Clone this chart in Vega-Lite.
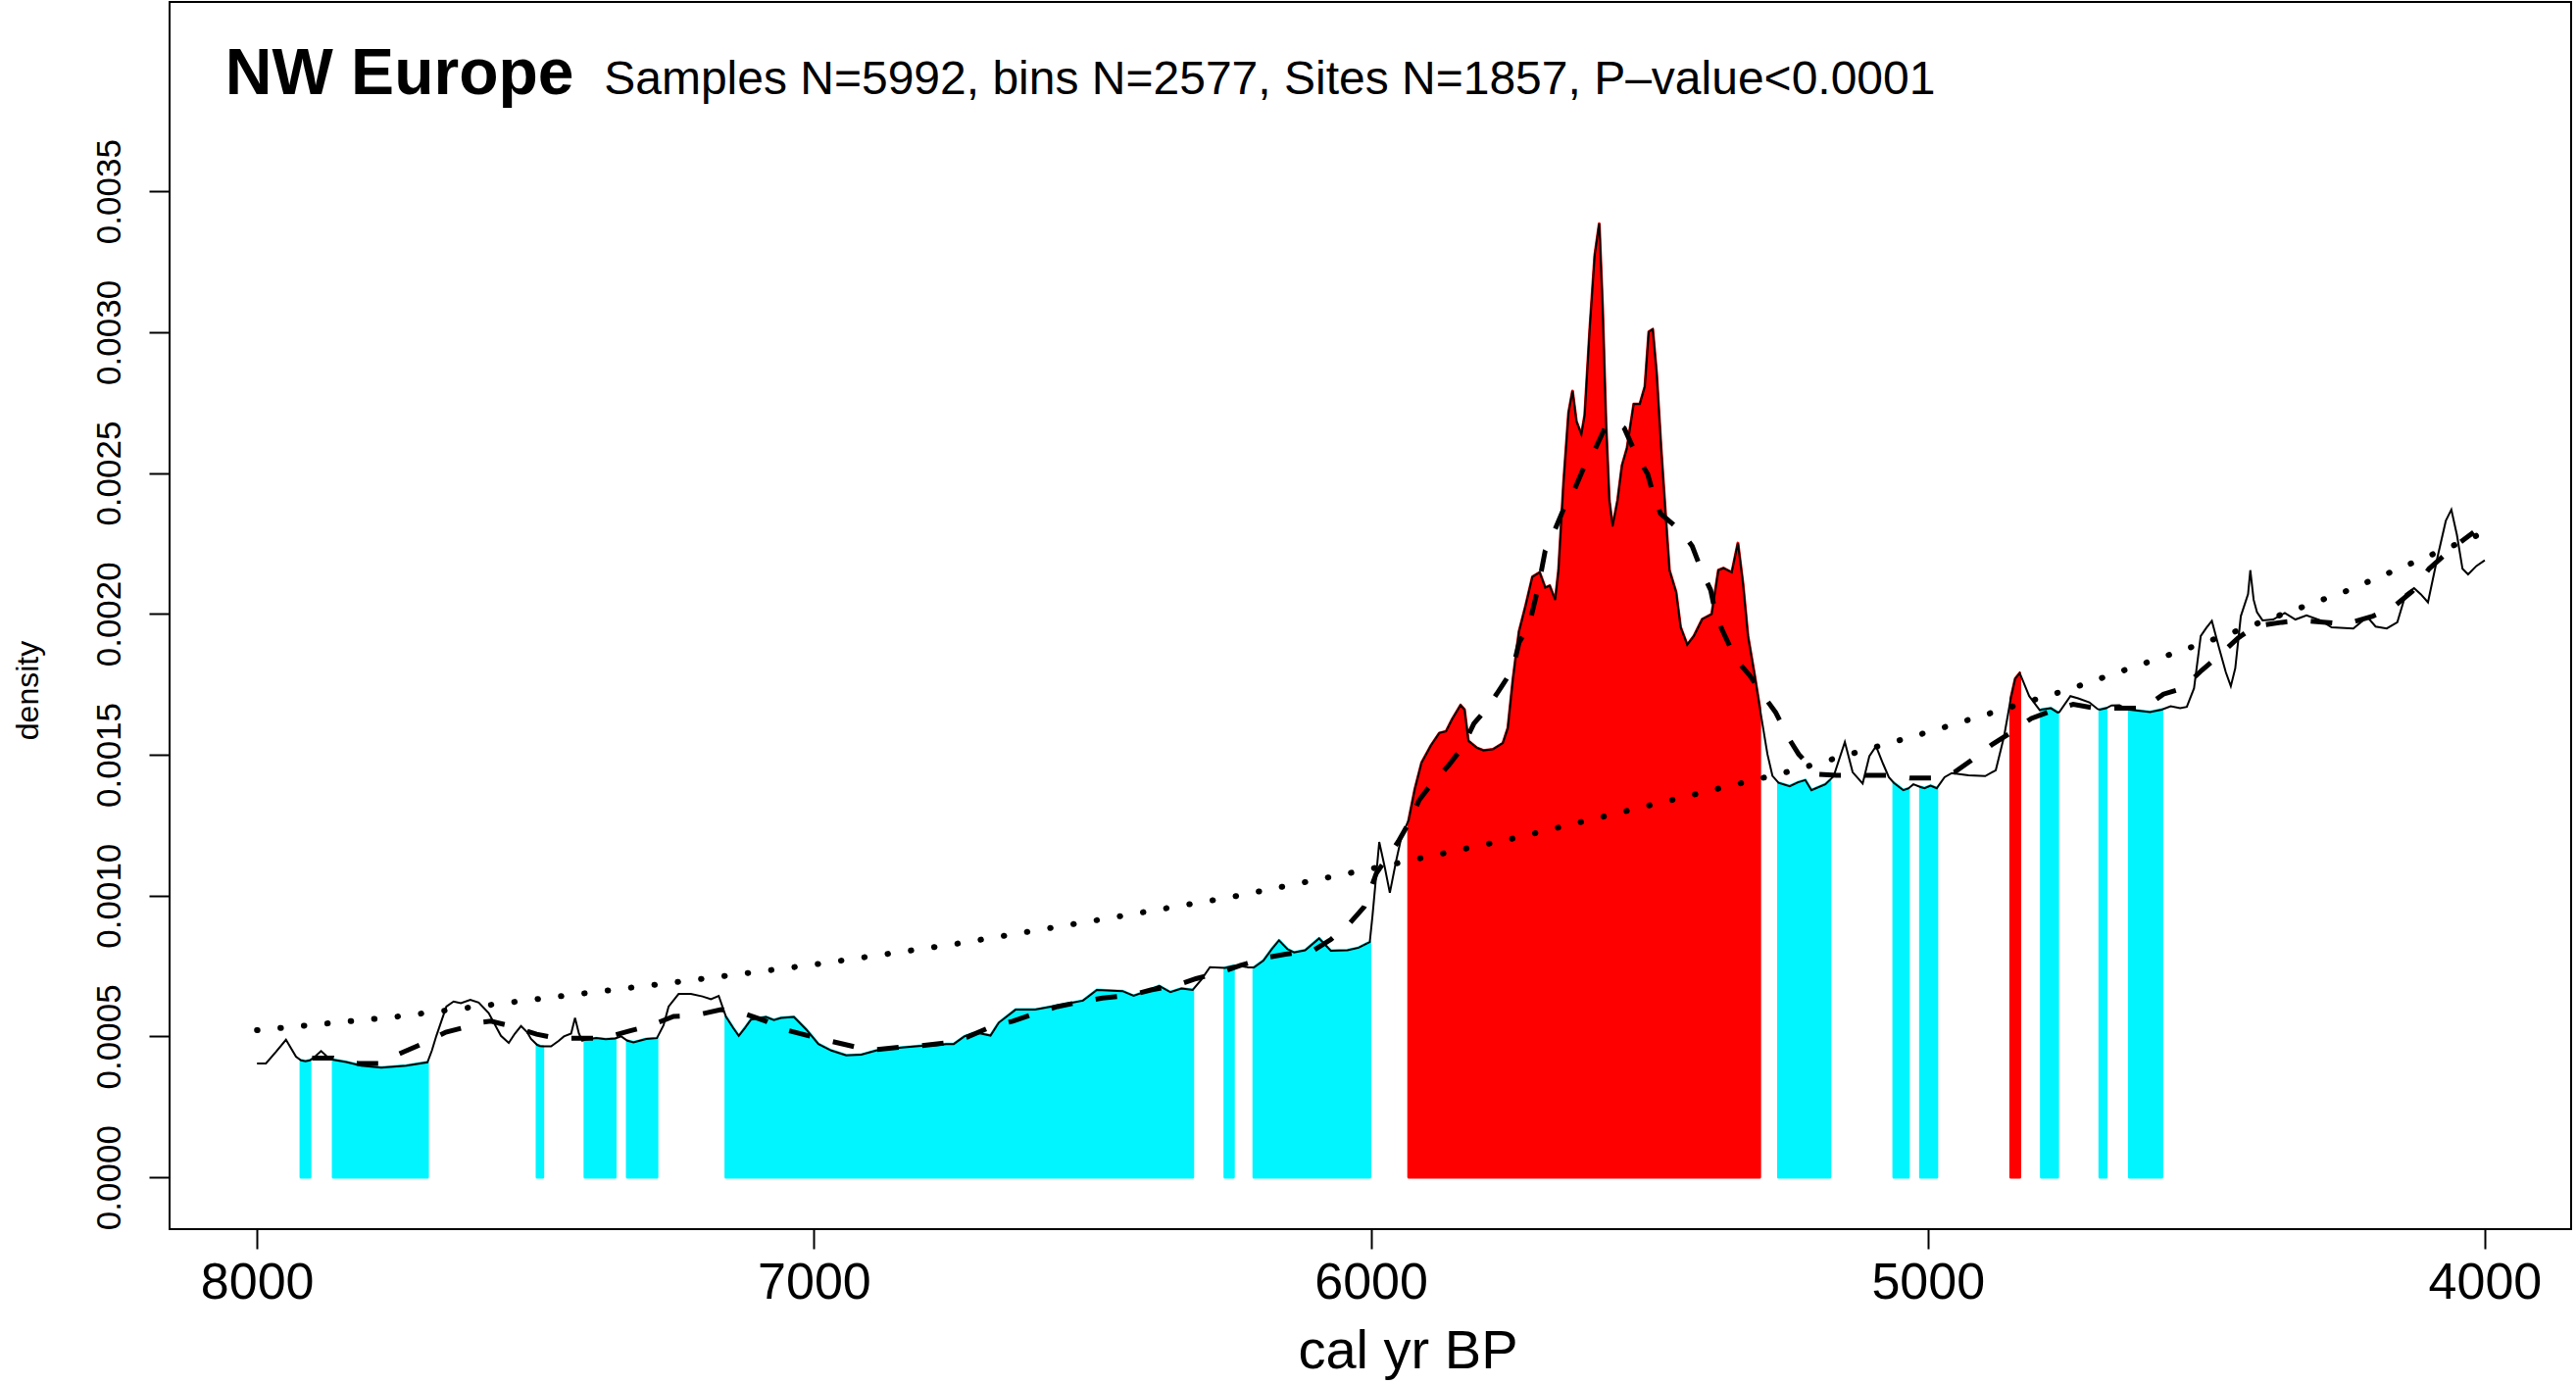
{
  "$schema": "https://vega.github.io/schema/vega-lite/v6.json",
  "autosize": {"type": "none"},
  "width": 2450,
  "height": 1252,
  "padding": {"left": 173, "top": 2, "right": 5, "bottom": 156},
  "background": "white",
  "config": {
    "font": "Liberation Sans",
    "view": {"stroke": "#000000", "strokeWidth": 2},
    "axis": {"grid": false, "domain": false, "tickColor": "#000000", "tickWidth": 2, "labelColor": "#000000", "titleColor": "#000000", "labelFont": "Liberation Sans", "titleFont": "Liberation Sans", "titleFontWeight": "normal"}
  },
  "datasets": {
    "spd": [
      {"year": 8000, "d": 0.000404, "seg": "", "sig": "none"},
      {"year": 7984, "d": 0.000404, "seg": "", "sig": "none"},
      {"year": 7966, "d": 0.000445, "seg": "", "sig": "none"},
      {"year": 7948, "d": 0.000488, "seg": "", "sig": "none"},
      {"year": 7930, "d": 0.000428, "seg": "", "sig": "none"},
      {"year": 7921, "d": 0.000415, "seg": "c1", "sig": "neg"},
      {"year": 7913, "d": 0.000412, "seg": "c1", "sig": "neg"},
      {"year": 7905, "d": 0.000415, "seg": "c1", "sig": "neg"},
      {"year": 7895, "d": 0.000430, "seg": "", "sig": "none"},
      {"year": 7885, "d": 0.000448, "seg": "", "sig": "none"},
      {"year": 7875, "d": 0.000430, "seg": "", "sig": "none"},
      {"year": 7863, "d": 0.000417, "seg": "c2", "sig": "neg"},
      {"year": 7840, "d": 0.000409, "seg": "c2", "sig": "neg"},
      {"year": 7813, "d": 0.000396, "seg": "c2", "sig": "neg"},
      {"year": 7777, "d": 0.000389, "seg": "c2", "sig": "neg"},
      {"year": 7732, "d": 0.000396, "seg": "c2", "sig": "neg"},
      {"year": 7694, "d": 0.000408, "seg": "c2", "sig": "neg"},
      {"year": 7686, "d": 0.000450, "seg": "", "sig": "none"},
      {"year": 7678, "d": 0.000502, "seg": "", "sig": "none"},
      {"year": 7660, "d": 0.000606, "seg": "", "sig": "none"},
      {"year": 7647, "d": 0.000624, "seg": "", "sig": "none"},
      {"year": 7634, "d": 0.000618, "seg": "", "sig": "none"},
      {"year": 7617, "d": 0.000630, "seg": "", "sig": "none"},
      {"year": 7602, "d": 0.000620, "seg": "", "sig": "none"},
      {"year": 7584, "d": 0.000583, "seg": "", "sig": "none"},
      {"year": 7562, "d": 0.000502, "seg": "", "sig": "none"},
      {"year": 7548, "d": 0.000477, "seg": "", "sig": "none"},
      {"year": 7537, "d": 0.000510, "seg": "", "sig": "none"},
      {"year": 7526, "d": 0.000537, "seg": "", "sig": "none"},
      {"year": 7515, "d": 0.000515, "seg": "", "sig": "none"},
      {"year": 7508, "d": 0.000491, "seg": "", "sig": "none"},
      {"year": 7497, "d": 0.000470, "seg": "c3", "sig": "neg"},
      {"year": 7492, "d": 0.000466, "seg": "c3", "sig": "neg"},
      {"year": 7487, "d": 0.000465, "seg": "c3", "sig": "neg"},
      {"year": 7472, "d": 0.000465, "seg": "", "sig": "none"},
      {"year": 7458, "d": 0.000485, "seg": "", "sig": "none"},
      {"year": 7449, "d": 0.000500, "seg": "", "sig": "none"},
      {"year": 7436, "d": 0.000510, "seg": "", "sig": "none"},
      {"year": 7429, "d": 0.000566, "seg": "", "sig": "none"},
      {"year": 7422, "d": 0.000510, "seg": "", "sig": "none"},
      {"year": 7416, "d": 0.000485, "seg": "", "sig": "none"},
      {"year": 7411, "d": 0.000488, "seg": "c4", "sig": "neg"},
      {"year": 7391, "d": 0.000494, "seg": "c4", "sig": "neg"},
      {"year": 7374, "d": 0.000490, "seg": "c4", "sig": "neg"},
      {"year": 7357, "d": 0.000493, "seg": "c4", "sig": "neg"},
      {"year": 7346, "d": 0.000500, "seg": "", "sig": "none"},
      {"year": 7335, "d": 0.000485, "seg": "c5", "sig": "neg"},
      {"year": 7324, "d": 0.000479, "seg": "c5", "sig": "neg"},
      {"year": 7301, "d": 0.000491, "seg": "c5", "sig": "neg"},
      {"year": 7282, "d": 0.000494, "seg": "c5", "sig": "neg"},
      {"year": 7270, "d": 0.000540, "seg": "", "sig": "none"},
      {"year": 7261, "d": 0.000606, "seg": "", "sig": "none"},
      {"year": 7243, "d": 0.000651, "seg": "", "sig": "none"},
      {"year": 7221, "d": 0.000651, "seg": "", "sig": "none"},
      {"year": 7200, "d": 0.000642, "seg": "", "sig": "none"},
      {"year": 7185, "d": 0.000632, "seg": "", "sig": "none"},
      {"year": 7171, "d": 0.000644, "seg": "", "sig": "none"},
      {"year": 7158, "d": 0.000570, "seg": "c6", "sig": "neg"},
      {"year": 7145, "d": 0.000530, "seg": "c6", "sig": "neg"},
      {"year": 7135, "d": 0.000502, "seg": "c6", "sig": "neg"},
      {"year": 7124, "d": 0.000530, "seg": "c6", "sig": "neg"},
      {"year": 7113, "d": 0.000560, "seg": "c6", "sig": "neg"},
      {"year": 7086, "d": 0.000569, "seg": "c6", "sig": "neg"},
      {"year": 7072, "d": 0.000558, "seg": "c6", "sig": "neg"},
      {"year": 7059, "d": 0.000566, "seg": "c6", "sig": "neg"},
      {"year": 7036, "d": 0.000569, "seg": "c6", "sig": "neg"},
      {"year": 7014, "d": 0.000525, "seg": "c6", "sig": "neg"},
      {"year": 6992, "d": 0.000473, "seg": "c6", "sig": "neg"},
      {"year": 6969, "d": 0.000450, "seg": "c6", "sig": "neg"},
      {"year": 6942, "d": 0.000433, "seg": "c6", "sig": "neg"},
      {"year": 6915, "d": 0.000435, "seg": "c6", "sig": "neg"},
      {"year": 6888, "d": 0.000450, "seg": "c6", "sig": "neg"},
      {"year": 6852, "d": 0.000459, "seg": "c6", "sig": "neg"},
      {"year": 6807, "d": 0.000467, "seg": "c6", "sig": "neg"},
      {"year": 6789, "d": 0.000467, "seg": "c6", "sig": "neg"},
      {"year": 6763, "d": 0.000473, "seg": "c6", "sig": "neg"},
      {"year": 6749, "d": 0.000473, "seg": "c6", "sig": "neg"},
      {"year": 6730, "d": 0.000500, "seg": "c6", "sig": "neg"},
      {"year": 6714, "d": 0.000511, "seg": "c6", "sig": "neg"},
      {"year": 6704, "d": 0.000512, "seg": "c6", "sig": "neg"},
      {"year": 6683, "d": 0.000503, "seg": "c6", "sig": "neg"},
      {"year": 6668, "d": 0.000549, "seg": "c6", "sig": "neg"},
      {"year": 6638, "d": 0.000595, "seg": "c6", "sig": "neg"},
      {"year": 6603, "d": 0.000595, "seg": "c6", "sig": "neg"},
      {"year": 6557, "d": 0.000612, "seg": "c6", "sig": "neg"},
      {"year": 6517, "d": 0.000627, "seg": "c6", "sig": "neg"},
      {"year": 6492, "d": 0.000665, "seg": "c6", "sig": "neg"},
      {"year": 6446, "d": 0.000661, "seg": "c6", "sig": "neg"},
      {"year": 6426, "d": 0.000644, "seg": "c6", "sig": "neg"},
      {"year": 6411, "d": 0.000655, "seg": "c6", "sig": "neg"},
      {"year": 6380, "d": 0.000679, "seg": "c6", "sig": "neg"},
      {"year": 6360, "d": 0.000657, "seg": "c6", "sig": "neg"},
      {"year": 6340, "d": 0.000670, "seg": "c6", "sig": "neg"},
      {"year": 6320, "d": 0.000665, "seg": "c6", "sig": "neg"},
      {"year": 6305, "d": 0.000700, "seg": "", "sig": "none"},
      {"year": 6289, "d": 0.000746, "seg": "", "sig": "none"},
      {"year": 6262, "d": 0.000743, "seg": "c7", "sig": "neg"},
      {"year": 6247, "d": 0.000750, "seg": "c7", "sig": "neg"},
      {"year": 6239, "d": 0.000752, "seg": "", "sig": "none"},
      {"year": 6220, "d": 0.000745, "seg": "", "sig": "none"},
      {"year": 6210, "d": 0.000745, "seg": "c8", "sig": "neg"},
      {"year": 6193, "d": 0.000769, "seg": "c8", "sig": "neg"},
      {"year": 6178, "d": 0.000810, "seg": "c8", "sig": "neg"},
      {"year": 6165, "d": 0.000841, "seg": "c8", "sig": "neg"},
      {"year": 6150, "d": 0.000810, "seg": "c8", "sig": "neg"},
      {"year": 6138, "d": 0.000798, "seg": "c8", "sig": "neg"},
      {"year": 6118, "d": 0.000806, "seg": "c8", "sig": "neg"},
      {"year": 6093, "d": 0.000848, "seg": "c8", "sig": "neg"},
      {"year": 6072, "d": 0.000804, "seg": "c8", "sig": "neg"},
      {"year": 6042, "d": 0.000806, "seg": "c8", "sig": "neg"},
      {"year": 6022, "d": 0.000815, "seg": "c8", "sig": "neg"},
      {"year": 6002, "d": 0.000835, "seg": "c8", "sig": "neg"},
      {"year": 5997, "d": 0.000931, "seg": "", "sig": "none"},
      {"year": 5985, "d": 0.001190, "seg": "", "sig": "none"},
      {"year": 5975, "d": 0.001100, "seg": "", "sig": "none"},
      {"year": 5966, "d": 0.001010, "seg": "", "sig": "none"},
      {"year": 5955, "d": 0.001120, "seg": "", "sig": "none"},
      {"year": 5945, "d": 0.001210, "seg": "", "sig": "none"},
      {"year": 5932, "d": 0.001269, "seg": "r1", "sig": "pos"},
      {"year": 5921, "d": 0.001378, "seg": "r1", "sig": "pos"},
      {"year": 5909, "d": 0.001471, "seg": "r1", "sig": "pos"},
      {"year": 5892, "d": 0.001533, "seg": "r1", "sig": "pos"},
      {"year": 5877, "d": 0.001577, "seg": "r1", "sig": "pos"},
      {"year": 5865, "d": 0.001583, "seg": "r1", "sig": "pos"},
      {"year": 5854, "d": 0.001626, "seg": "r1", "sig": "pos"},
      {"year": 5839, "d": 0.001676, "seg": "r1", "sig": "pos"},
      {"year": 5832, "d": 0.001660, "seg": "r1", "sig": "pos"},
      {"year": 5825, "d": 0.001549, "seg": "r1", "sig": "pos"},
      {"year": 5810, "d": 0.001525, "seg": "r1", "sig": "pos"},
      {"year": 5798, "d": 0.001515, "seg": "r1", "sig": "pos"},
      {"year": 5781, "d": 0.001519, "seg": "r1", "sig": "pos"},
      {"year": 5763, "d": 0.001541, "seg": "r1", "sig": "pos"},
      {"year": 5754, "d": 0.001595, "seg": "r1", "sig": "pos"},
      {"year": 5745, "d": 0.001766, "seg": "r1", "sig": "pos"},
      {"year": 5734, "d": 0.001937, "seg": "r1", "sig": "pos"},
      {"year": 5722, "d": 0.002030, "seg": "r1", "sig": "pos"},
      {"year": 5710, "d": 0.002131, "seg": "r1", "sig": "pos"},
      {"year": 5697, "d": 0.002147, "seg": "r1", "sig": "pos"},
      {"year": 5687, "d": 0.002093, "seg": "r1", "sig": "pos"},
      {"year": 5679, "d": 0.002100, "seg": "r1", "sig": "pos"},
      {"year": 5669, "d": 0.002049, "seg": "r1", "sig": "pos"},
      {"year": 5663, "d": 0.002155, "seg": "r1", "sig": "pos"},
      {"year": 5654, "d": 0.002465, "seg": "r1", "sig": "pos"},
      {"year": 5645, "d": 0.002714, "seg": "r1", "sig": "pos"},
      {"year": 5638, "d": 0.002791, "seg": "r1", "sig": "pos"},
      {"year": 5631, "d": 0.002683, "seg": "r1", "sig": "pos"},
      {"year": 5622, "d": 0.002636, "seg": "r1", "sig": "pos"},
      {"year": 5616, "d": 0.002706, "seg": "r1", "sig": "pos"},
      {"year": 5607, "d": 0.003009, "seg": "r1", "sig": "pos"},
      {"year": 5598, "d": 0.003273, "seg": "r1", "sig": "pos"},
      {"year": 5590, "d": 0.003385, "seg": "r1", "sig": "pos"},
      {"year": 5584, "d": 0.003087, "seg": "r1", "sig": "pos"},
      {"year": 5578, "d": 0.002683, "seg": "r1", "sig": "pos"},
      {"year": 5572, "d": 0.002403, "seg": "r1", "sig": "pos"},
      {"year": 5566, "d": 0.002310, "seg": "r1", "sig": "pos"},
      {"year": 5557, "d": 0.002403, "seg": "r1", "sig": "pos"},
      {"year": 5549, "d": 0.002527, "seg": "r1", "sig": "pos"},
      {"year": 5540, "d": 0.002589, "seg": "r1", "sig": "pos"},
      {"year": 5528, "d": 0.002745, "seg": "r1", "sig": "pos"},
      {"year": 5517, "d": 0.002745, "seg": "r1", "sig": "pos"},
      {"year": 5508, "d": 0.002807, "seg": "r1", "sig": "pos"},
      {"year": 5501, "d": 0.003001, "seg": "r1", "sig": "pos"},
      {"year": 5494, "d": 0.003010, "seg": "r1", "sig": "pos"},
      {"year": 5487, "d": 0.002853, "seg": "r1", "sig": "pos"},
      {"year": 5479, "d": 0.002589, "seg": "r1", "sig": "pos"},
      {"year": 5470, "d": 0.002325, "seg": "r1", "sig": "pos"},
      {"year": 5464, "d": 0.002155, "seg": "r1", "sig": "pos"},
      {"year": 5452, "d": 0.002077, "seg": "r1", "sig": "pos"},
      {"year": 5444, "d": 0.001953, "seg": "r1", "sig": "pos"},
      {"year": 5432, "d": 0.001890, "seg": "r1", "sig": "pos"},
      {"year": 5420, "d": 0.001921, "seg": "r1", "sig": "pos"},
      {"year": 5405, "d": 0.001981, "seg": "r1", "sig": "pos"},
      {"year": 5388, "d": 0.001999, "seg": "r1", "sig": "pos"},
      {"year": 5376, "d": 0.002155, "seg": "r1", "sig": "pos"},
      {"year": 5367, "d": 0.002162, "seg": "r1", "sig": "pos"},
      {"year": 5352, "d": 0.002147, "seg": "r1", "sig": "pos"},
      {"year": 5341, "d": 0.002251, "seg": "r1", "sig": "pos"},
      {"year": 5332, "d": 0.002108, "seg": "r1", "sig": "pos"},
      {"year": 5323, "d": 0.001921, "seg": "r1", "sig": "pos"},
      {"year": 5311, "d": 0.001782, "seg": "r1", "sig": "pos"},
      {"year": 5302, "d": 0.001670, "seg": "r1", "sig": "pos"},
      {"year": 5288, "d": 0.001502, "seg": "", "sig": "none"},
      {"year": 5279, "d": 0.001425, "seg": "", "sig": "none"},
      {"year": 5268, "d": 0.001400, "seg": "c9", "sig": "neg"},
      {"year": 5248, "d": 0.001388, "seg": "c9", "sig": "neg"},
      {"year": 5233, "d": 0.001402, "seg": "c9", "sig": "neg"},
      {"year": 5220, "d": 0.001410, "seg": "c9", "sig": "neg"},
      {"year": 5209, "d": 0.001374, "seg": "c9", "sig": "neg"},
      {"year": 5184, "d": 0.001395, "seg": "c9", "sig": "neg"},
      {"year": 5176, "d": 0.001410, "seg": "c9", "sig": "neg"},
      {"year": 5169, "d": 0.001424, "seg": "", "sig": "none"},
      {"year": 5149, "d": 0.001545, "seg": "", "sig": "none"},
      {"year": 5135, "d": 0.001438, "seg": "", "sig": "none"},
      {"year": 5117, "d": 0.001398, "seg": "", "sig": "none"},
      {"year": 5105, "d": 0.001495, "seg": "", "sig": "none"},
      {"year": 5093, "d": 0.001530, "seg": "", "sig": "none"},
      {"year": 5080, "d": 0.001466, "seg": "", "sig": "none"},
      {"year": 5070, "d": 0.001420, "seg": "", "sig": "none"},
      {"year": 5061, "d": 0.001400, "seg": "c10", "sig": "neg"},
      {"year": 5044, "d": 0.001374, "seg": "c10", "sig": "neg"},
      {"year": 5035, "d": 0.001380, "seg": "c10", "sig": "neg"},
      {"year": 5026, "d": 0.001395, "seg": "", "sig": "none"},
      {"year": 5013, "d": 0.001385, "seg": "c11", "sig": "neg"},
      {"year": 5006, "d": 0.001381, "seg": "c11", "sig": "neg"},
      {"year": 4995, "d": 0.001390, "seg": "c11", "sig": "neg"},
      {"year": 4984, "d": 0.001381, "seg": "c11", "sig": "neg"},
      {"year": 4970, "d": 0.001420, "seg": "", "sig": "none"},
      {"year": 4957, "d": 0.001435, "seg": "", "sig": "none"},
      {"year": 4927, "d": 0.001427, "seg": "", "sig": "none"},
      {"year": 4897, "d": 0.001424, "seg": "", "sig": "none"},
      {"year": 4878, "d": 0.001445, "seg": "", "sig": "none"},
      {"year": 4863, "d": 0.001566, "seg": "", "sig": "none"},
      {"year": 4851, "d": 0.001700, "seg": "r2", "sig": "pos"},
      {"year": 4843, "d": 0.001770, "seg": "r2", "sig": "pos"},
      {"year": 4835, "d": 0.001790, "seg": "r2", "sig": "pos"},
      {"year": 4818, "d": 0.001708, "seg": "", "sig": "none"},
      {"year": 4799, "d": 0.001658, "seg": "", "sig": "none"},
      {"year": 4796, "d": 0.001660, "seg": "c12", "sig": "neg"},
      {"year": 4779, "d": 0.001665, "seg": "c12", "sig": "neg"},
      {"year": 4767, "d": 0.001650, "seg": "c12", "sig": "neg"},
      {"year": 4764, "d": 0.001651, "seg": "", "sig": "none"},
      {"year": 4744, "d": 0.001708, "seg": "", "sig": "none"},
      {"year": 4730, "d": 0.001700, "seg": "", "sig": "none"},
      {"year": 4710, "d": 0.001686, "seg": "", "sig": "none"},
      {"year": 4695, "d": 0.001662, "seg": "", "sig": "none"},
      {"year": 4691, "d": 0.001660, "seg": "c13", "sig": "neg"},
      {"year": 4680, "d": 0.001665, "seg": "c13", "sig": "neg"},
      {"year": 4670, "d": 0.001675, "seg": "", "sig": "none"},
      {"year": 4656, "d": 0.001676, "seg": "", "sig": "none"},
      {"year": 4645, "d": 0.001665, "seg": "", "sig": "none"},
      {"year": 4638, "d": 0.001660, "seg": "c14", "sig": "neg"},
      {"year": 4631, "d": 0.001658, "seg": "c14", "sig": "neg"},
      {"year": 4601, "d": 0.001651, "seg": "c14", "sig": "neg"},
      {"year": 4580, "d": 0.001660, "seg": "c14", "sig": "neg"},
      {"year": 4564, "d": 0.001672, "seg": "", "sig": "none"},
      {"year": 4547, "d": 0.001665, "seg": "", "sig": "none"},
      {"year": 4535, "d": 0.001670, "seg": "", "sig": "none"},
      {"year": 4522, "d": 0.001736, "seg": "", "sig": "none"},
      {"year": 4510, "d": 0.001921, "seg": "", "sig": "none"},
      {"year": 4500, "d": 0.001950, "seg": "", "sig": "none"},
      {"year": 4490, "d": 0.001975, "seg": "", "sig": "none"},
      {"year": 4477, "d": 0.001878, "seg": "", "sig": "none"},
      {"year": 4465, "d": 0.001793, "seg": "", "sig": "none"},
      {"year": 4456, "d": 0.001743, "seg": "", "sig": "none"},
      {"year": 4448, "d": 0.001807, "seg": "", "sig": "none"},
      {"year": 4438, "d": 0.001992, "seg": "", "sig": "none"},
      {"year": 4425, "d": 0.002070, "seg": "", "sig": "none"},
      {"year": 4421, "d": 0.002155, "seg": "", "sig": "none"},
      {"year": 4415, "d": 0.002050, "seg": "", "sig": "none"},
      {"year": 4409, "d": 0.002006, "seg": "", "sig": "none"},
      {"year": 4399, "d": 0.001977, "seg": "", "sig": "none"},
      {"year": 4380, "d": 0.001980, "seg": "", "sig": "none"},
      {"year": 4359, "d": 0.002003, "seg": "", "sig": "none"},
      {"year": 4340, "d": 0.001980, "seg": "", "sig": "none"},
      {"year": 4320, "d": 0.001995, "seg": "", "sig": "none"},
      {"year": 4295, "d": 0.001977, "seg": "", "sig": "none"},
      {"year": 4275, "d": 0.001952, "seg": "", "sig": "none"},
      {"year": 4236, "d": 0.001948, "seg": "", "sig": "none"},
      {"year": 4211, "d": 0.001989, "seg": "", "sig": "none"},
      {"year": 4196, "d": 0.001955, "seg": "", "sig": "none"},
      {"year": 4176, "d": 0.001948, "seg": "", "sig": "none"},
      {"year": 4157, "d": 0.001970, "seg": "", "sig": "none"},
      {"year": 4142, "d": 0.002070, "seg": "", "sig": "none"},
      {"year": 4127, "d": 0.002091, "seg": "", "sig": "none"},
      {"year": 4115, "d": 0.002070, "seg": "", "sig": "none"},
      {"year": 4102, "d": 0.002041, "seg": "", "sig": "none"},
      {"year": 4085, "d": 0.002200, "seg": "", "sig": "none"},
      {"year": 4070, "d": 0.002330, "seg": "", "sig": "none"},
      {"year": 4060, "d": 0.002370, "seg": "", "sig": "none"},
      {"year": 4050, "d": 0.002280, "seg": "", "sig": "none"},
      {"year": 4040, "d": 0.002160, "seg": "", "sig": "none"},
      {"year": 4030, "d": 0.002140, "seg": "", "sig": "none"},
      {"year": 4015, "d": 0.002170, "seg": "", "sig": "none"},
      {"year": 4000, "d": 0.002190, "seg": "", "sig": "none"}
    ],
    "dash": [
      {"year": 7901, "d": 0.000423}, {"year": 7863, "d": 0.000423}, {"year": 7840, "d": 0.000410},
      {"year": 7818, "d": 0.000404}, {"year": 7782, "d": 0.000404}, {"year": 7737, "d": 0.000445},
      {"year": 7696, "d": 0.000480}, {"year": 7661, "d": 0.000515}, {"year": 7625, "d": 0.000533},
      {"year": 7600, "d": 0.000550}, {"year": 7580, "d": 0.000554}, {"year": 7544, "d": 0.000537},
      {"year": 7498, "d": 0.000508}, {"year": 7463, "d": 0.000494}, {"year": 7409, "d": 0.000494},
      {"year": 7377, "d": 0.000494}, {"year": 7330, "d": 0.000520}, {"year": 7296, "d": 0.000537},
      {"year": 7252, "d": 0.000571}, {"year": 7215, "d": 0.000574}, {"year": 7167, "d": 0.000595},
      {"year": 7131, "d": 0.000585}, {"year": 7086, "d": 0.000554}, {"year": 7054, "d": 0.000525},
      {"year": 7005, "d": 0.000500}, {"year": 6974, "d": 0.000485}, {"year": 6924, "d": 0.000462},
      {"year": 6888, "d": 0.000453}, {"year": 6844, "d": 0.000462}, {"year": 6807, "d": 0.000467},
      {"year": 6763, "d": 0.000477}, {"year": 6726, "d": 0.000497}, {"year": 6679, "d": 0.000537},
      {"year": 6643, "d": 0.000554}, {"year": 6598, "d": 0.000585}, {"year": 6563, "d": 0.000606},
      {"year": 6517, "d": 0.000624}, {"year": 6482, "d": 0.000636}, {"year": 6430, "d": 0.000647},
      {"year": 6395, "d": 0.000665}, {"year": 6349, "d": 0.000682}, {"year": 6314, "d": 0.000705},
      {"year": 6269, "d": 0.000728}, {"year": 6234, "d": 0.000752}, {"year": 6188, "d": 0.000780},
      {"year": 6153, "d": 0.000792}, {"year": 6104, "d": 0.000804}, {"year": 6072, "d": 0.000844},
      {"year": 6038, "d": 0.000902}, {"year": 6012, "d": 0.000960}, {"year": 5990, "d": 0.001080},
      {"year": 5951, "d": 0.001191}, {"year": 5933, "d": 0.001254}, {"year": 5913, "d": 0.001340},
      {"year": 5892, "d": 0.001394}, {"year": 5860, "d": 0.001463}, {"year": 5836, "d": 0.001525},
      {"year": 5815, "d": 0.001611}, {"year": 5791, "d": 0.001665}, {"year": 5765, "d": 0.001743},
      {"year": 5745, "d": 0.001805}, {"year": 5734, "d": 0.001898}, {"year": 5716, "d": 0.001960},
      {"year": 5700, "d": 0.002090}, {"year": 5687, "d": 0.002224}, {"year": 5672, "d": 0.002287},
      {"year": 5654, "d": 0.002372}, {"year": 5636, "d": 0.002434}, {"year": 5616, "d": 0.002527},
      {"year": 5598, "d": 0.002582}, {"year": 5578, "d": 0.002667}, {"year": 5560, "d": 0.002683},
      {"year": 5545, "d": 0.002659}, {"year": 5524, "d": 0.002566}, {"year": 5503, "d": 0.002496},
      {"year": 5492, "d": 0.002418}, {"year": 5480, "d": 0.002356}, {"year": 5443, "d": 0.002294},
      {"year": 5423, "d": 0.002240}, {"year": 5405, "d": 0.002147}, {"year": 5390, "d": 0.002085},
      {"year": 5380, "d": 0.001991}, {"year": 5366, "d": 0.001929}, {"year": 5344, "d": 0.001836},
      {"year": 5320, "d": 0.001782}, {"year": 5293, "d": 0.001704}, {"year": 5273, "d": 0.001649},
      {"year": 5249, "d": 0.001556}, {"year": 5232, "d": 0.001502}, {"year": 5199, "d": 0.001431},
      {"year": 5164, "d": 0.001427}, {"year": 5115, "d": 0.001427}, {"year": 5075, "d": 0.001427},
      {"year": 5031, "d": 0.001417}, {"year": 4991, "d": 0.001417}, {"year": 4952, "d": 0.001438},
      {"year": 4922, "d": 0.001480}, {"year": 4884, "d": 0.001537}, {"year": 4855, "d": 0.001573},
      {"year": 4814, "d": 0.001629}, {"year": 4774, "d": 0.001658}, {"year": 4739, "d": 0.001679},
      {"year": 4700, "d": 0.001665}, {"year": 4652, "d": 0.001665}, {"year": 4612, "d": 0.001665},
      {"year": 4577, "d": 0.001715}, {"year": 4542, "d": 0.001736}, {"year": 4508, "d": 0.001800},
      {"year": 4478, "d": 0.001850}, {"year": 4443, "d": 0.001914}, {"year": 4413, "d": 0.001956},
      {"year": 4364, "d": 0.001970}, {"year": 4329, "d": 0.001977}, {"year": 4285, "d": 0.001970},
      {"year": 4251, "d": 0.001963}, {"year": 4201, "d": 0.001992}, {"year": 4167, "d": 0.002020},
      {"year": 4130, "d": 0.002080}, {"year": 4100, "d": 0.002160}, {"year": 4060, "d": 0.002230},
      {"year": 4020, "d": 0.002290}
    ],
    "dot": [
      {"year": 8000, "d": 0.000522}, {"year": 7750, "d": 0.000570}, {"year": 7500, "d": 0.000632},
      {"year": 7250, "d": 0.000692}, {"year": 7000, "d": 0.000755}, {"year": 6750, "d": 0.000827},
      {"year": 6500, "d": 0.000910}, {"year": 6250, "d": 0.000995}, {"year": 6000, "d": 0.001095},
      {"year": 5750, "d": 0.001200}, {"year": 5500, "d": 0.001320}, {"year": 5250, "d": 0.001440},
      {"year": 5000, "d": 0.001580}, {"year": 4750, "d": 0.001730}, {"year": 4500, "d": 0.001900},
      {"year": 4250, "d": 0.002080}, {"year": 4000, "d": 0.002290}
    ]
  },
  "layer": [
    {
      "data": {"name": "spd"},
      "transform": [{"filter": "datum.sig != 'none'"}],
      "mark": {"type": "area", "interpolate": "linear", "strokeWidth": 3, "strokeJoin": "round"},
      "encoding": {
        "x": {"field": "year", "type": "quantitative", "title": "cal yr BP",
          "scale": {"domain": [8157, 3845], "nice": false, "zero": false},
          "axis": {"values": [8000, 7000, 6000, 5000, 4000], "format": "d", "labelFontSize": 52, "tickSize": 20, "labelPadding": 9, "labelBaseline": "top", "titleFontSize": 56, "titleX": 1263, "titleY": 141, "titleBaseline": "alphabetic", "titleAlign": "center"}},
        "y": {"field": "d", "type": "quantitative", "title": "density",
          "scale": {"domain": [-0.000184, 0.004172], "nice": false, "zero": false},
          "axis": {"values": [0, 0.0005, 0.001, 0.0015, 0.002, 0.0025, 0.003, 0.0035], "format": ".4f", "labelFontSize": 35, "labelAngle": 270, "labelAlign": "center", "labelBaseline": "middle", "tickSize": 21, "labelPadding": 41, "titleFontSize": 32, "titleX": -145, "titleY": 702, "titleAngle": 270, "titleAlign": "center", "titleBaseline": "middle"}},
        "y2": {"datum": 0},
        "detail": {"field": "seg"},
        "color": {"field": "sig", "type": "nominal", "scale": {"domain": ["neg", "pos"], "range": ["#00F5FF", "#FF0000"]}, "legend": null},
        "stroke": {"field": "sig", "type": "nominal", "scale": {"domain": ["neg", "pos"], "range": ["#00F5FF", "#FF0000"]}, "legend": null}
      }
    },
    {
      "data": {"name": "dot"},
      "mark": {"type": "line", "color": "#000000", "strokeWidth": 6, "strokeDash": [0.5, 23.5], "strokeCap": "round"},
      "encoding": {
        "x": {"field": "year", "type": "quantitative", "title": "cal yr BP"},
        "y": {"field": "d", "type": "quantitative", "title": "density"}
      }
    },
    {
      "data": {"name": "dash"},
      "mark": {"type": "line", "color": "#000000", "strokeWidth": 5, "strokeDash": [22, 24], "strokeCap": "butt"},
      "encoding": {
        "x": {"field": "year", "type": "quantitative", "title": "cal yr BP"},
        "y": {"field": "d", "type": "quantitative", "title": "density"}
      }
    },
    {
      "data": {"name": "spd"},
      "mark": {"type": "line", "color": "#000000", "strokeWidth": 2, "interpolate": "linear"},
      "encoding": {
        "x": {"field": "year", "type": "quantitative", "title": "cal yr BP"},
        "y": {"field": "d", "type": "quantitative", "title": "density"}
      }
    },
    {
      "data": {"values": [{"label": "NW Europe"}]},
      "mark": {"type": "text", "font": "Liberation Sans", "fontWeight": "bold", "fontSize": 66, "align": "left", "baseline": "alphabetic", "color": "#000000"},
      "encoding": {
        "x": {"datum": 8057, "type": "quantitative"},
        "y": {"datum": 0.003845, "type": "quantitative"},
        "text": {"field": "label"}
      }
    },
    {
      "data": {"values": [{"label": "Samples N=5992, bins N=2577, Sites N=1857, P\u2013value<0.0001"}]},
      "mark": {"type": "text", "font": "Liberation Sans", "fontSize": 48, "align": "left", "baseline": "alphabetic", "color": "#000000"},
      "encoding": {
        "x": {"datum": 7377, "type": "quantitative"},
        "y": {"datum": 0.003845, "type": "quantitative"},
        "text": {"field": "label"}
      }
    }
  ]
}
